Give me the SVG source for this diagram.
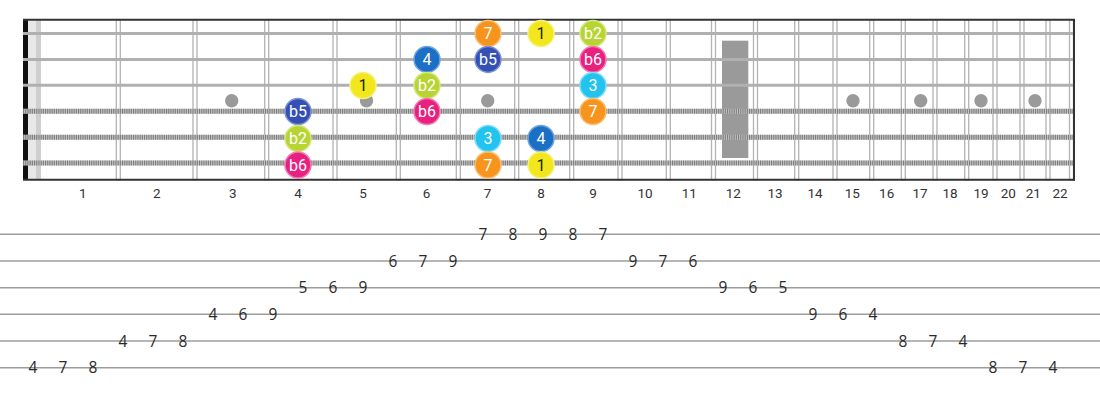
<svg xmlns="http://www.w3.org/2000/svg" width="1100" height="400" viewBox="0 0 1100 400">
<style>
.fret{fill:none;stroke:#b3b3b3;stroke-width:1.3}
.plain{stroke:#b0b0b0;stroke-width:3}
.wbase{stroke:#c4c4c4;stroke-width:5}
.wtex{stroke:#7d7d7d;stroke-width:5;stroke-dasharray:1.1 1.1}
.dot{fill:#9a9a9a}
.fl{font-family:Roboto,"Liberation Sans",sans-serif;font-size:13.5px;fill:#333;text-anchor:middle}
.nt{font-family:Roboto,"Liberation Sans",sans-serif;font-size:16px;fill:#fff;text-anchor:middle}
.nt.dk{fill:#222}
.tl{stroke:#9c9c9c;stroke-width:1.6}
.tn{font-family:"Open Sans","DejaVu Sans",sans-serif;font-size:15.5px;fill:#2a2a2a;text-anchor:middle}
.c7{fill:#f7941d;stroke:#fbbd74;stroke-width:1.5}
.c1{fill:#f2e61c;stroke:#f8f07a;stroke-width:1.5}
.cb2{fill:#b8d433;stroke:#d4e77f;stroke-width:1.5}
.cb6{fill:#e8207f;stroke:#f27bb3;stroke-width:1.5}
.c3{fill:#22c3ee;stroke:#7fdcf5;stroke-width:1.5}
.c4{fill:#1b6fc4;stroke:#6fa5dc;stroke-width:1.5}
.cb5{fill:#3450b5;stroke:#7f93d3;stroke-width:1.5}
</style>
<rect width="1100" height="400" fill="#fff"/>
<g id="fretboard">
  <rect x="28" y="20" width="13" height="160" fill="#e8e8e8"/>
  <rect x="36" y="20" width="5" height="160" fill="#cfcfcf"/>
  <g id="frets">
    <rect class="fret" x="116.3" y="20" width="4" height="160"/>
    <rect class="fret" x="193" y="20" width="4" height="160"/>
    <rect class="fret" x="264.7" y="20" width="4" height="160"/>
    <rect class="fret" x="333" y="20" width="4" height="160"/>
    <rect class="fret" x="396.3" y="20" width="4" height="160"/>
    <rect class="fret" x="456.3" y="20" width="4" height="160"/>
    <rect class="fret" x="514.7" y="20" width="4" height="160"/>
    <rect class="fret" x="569.7" y="20" width="4" height="160"/>
    <rect class="fret" x="618" y="20" width="4" height="160"/>
    <rect class="fret" x="666.3" y="20" width="4" height="160"/>
    <rect class="fret" x="711.5" y="20" width="4" height="160"/>
    <rect class="fret" x="753.5" y="20" width="4" height="160"/>
    <rect class="fret" x="794.7" y="20" width="4" height="160"/>
    <rect class="fret" x="833" y="20" width="4" height="160"/>
    <rect class="fret" x="869.7" y="20" width="4" height="160"/>
    <rect class="fret" x="901.3" y="20" width="4" height="160"/>
    <rect class="fret" x="933" y="20" width="4" height="160"/>
    <rect class="fret" x="964.7" y="20" width="4" height="160"/>
    <rect class="fret" x="993" y="20" width="4" height="160"/>
    <rect class="fret" x="1020" y="20" width="4" height="160"/>
    <rect class="fret" x="1046" y="20" width="4" height="160"/>
    <rect class="fret" x="1069.5" y="20" width="4" height="160"/>
  </g>
  <g id="inlays">
    <circle class="dot" cx="231.7" cy="100.7" r="6.7"/>
    <circle class="dot" cx="366.5" cy="100.7" r="6.7"/>
    <circle class="dot" cx="487.7" cy="100.7" r="6.7"/>
    <rect class="dot" x="722" y="40.7" width="26.3" height="117.3"/>
    <circle class="dot" cx="853" cy="100.7" r="6.7"/>
    <circle class="dot" cx="920.7" cy="100.7" r="6.7"/>
    <circle class="dot" cx="981" cy="100.7" r="6.7"/>
    <circle class="dot" cx="1035" cy="100.7" r="6.7"/>
  </g>
  <rect x="23" y="20" width="5" height="160" fill="#111"/>
  <g id="strings">
    <line class="plain" x1="23" y1="33.5" x2="1074" y2="33.5"/>
    <line class="plain" x1="23" y1="59.4" x2="1074" y2="59.4"/>
    <line class="plain" x1="23" y1="85.2" x2="1074" y2="85.2"/>
    <line class="wbase" x1="23" y1="111.2" x2="1074" y2="111.2"/>
    <line class="wtex" x1="23" y1="111.2" x2="1074" y2="111.2"/>
    <line class="wbase" x1="23" y1="137.2" x2="1074" y2="137.2"/>
    <line class="wtex" x1="23" y1="137.2" x2="1074" y2="137.2"/>
    <line class="wbase" x1="23" y1="163" x2="1074" y2="163"/>
    <line class="wtex" x1="23" y1="163" x2="1074" y2="163"/>
  </g>
  <line x1="23" y1="19.7" x2="1075" y2="19.7" stroke="#333" stroke-width="2"/>
  <line x1="23" y1="179.7" x2="1075" y2="179.7" stroke="#333" stroke-width="2"/>
  <line x1="1074" y1="19" x2="1074" y2="180.5" stroke="#333" stroke-width="2"/>
</g>
<g id="fret-numbers">
  <text class="fl" x="82.7" y="198">1</text>
  <text class="fl" x="156.7" y="198">2</text>
  <text class="fl" x="232.7" y="198">3</text>
  <text class="fl" x="298" y="198">4</text>
  <text class="fl" x="363" y="198">5</text>
  <text class="fl" x="426.5" y="198">6</text>
  <text class="fl" x="487.5" y="198">7</text>
  <text class="fl" x="541" y="198">8</text>
  <text class="fl" x="593" y="198">9</text>
  <text class="fl" x="645" y="198">10</text>
  <text class="fl" x="689.3" y="198">11</text>
  <text class="fl" x="733.3" y="198">12</text>
  <text class="fl" x="775" y="198">13</text>
  <text class="fl" x="815" y="198">14</text>
  <text class="fl" x="852.3" y="198">15</text>
  <text class="fl" x="886.7" y="198">16</text>
  <text class="fl" x="920" y="198">17</text>
  <text class="fl" x="950" y="198">18</text>
  <text class="fl" x="981" y="198">19</text>
  <text class="fl" x="1008.3" y="198">20</text>
  <text class="fl" x="1033.3" y="198">21</text>
  <text class="fl" x="1060" y="198">22</text>
</g>
<g id="notes">
  <g id="n-s1-f7"><circle class="c7" cx="488" cy="33.5" r="13"/><text class="nt" x="488" y="39.2">7</text></g>
  <g id="n-s1-f8"><circle class="c1" cx="541" cy="33.5" r="13"/><text class="nt dk" x="541" y="39.2">1</text></g>
  <g id="n-s1-f9"><circle class="cb2" cx="593" cy="33.5" r="13"/><text class="nt" x="593" y="39.2">b2</text></g>
  <g id="n-s2-f6"><circle class="c4" cx="427" cy="59.4" r="13"/><text class="nt" x="427" y="65.1">4</text></g>
  <g id="n-s2-f7"><circle class="cb5" cx="488" cy="59.4" r="13"/><text class="nt" x="488" y="65.1">b5</text></g>
  <g id="n-s2-f9"><circle class="cb6" cx="593" cy="59.4" r="13"/><text class="nt" x="593" y="65.1">b6</text></g>
  <g id="n-s3-f5"><circle class="c1" cx="363" cy="85.5" r="13"/><text class="nt dk" x="363" y="91.2">1</text></g>
  <g id="n-s3-f6"><circle class="cb2" cx="427" cy="85.5" r="13"/><text class="nt" x="427" y="91.2">b2</text></g>
  <g id="n-s3-f9"><circle class="c3" cx="593" cy="85.5" r="13"/><text class="nt" x="593" y="91.2">3</text></g>
  <g id="n-s4-f4"><circle class="cb5" cx="298" cy="111.5" r="13"/><text class="nt" x="298" y="117.2">b5</text></g>
  <g id="n-s4-f6"><circle class="cb6" cx="427" cy="111.5" r="13"/><text class="nt" x="427" y="117.2">b6</text></g>
  <g id="n-s4-f9"><circle class="c7" cx="593" cy="111.5" r="13"/><text class="nt" x="593" y="117.2">7</text></g>
  <g id="n-s5-f4"><circle class="cb2" cx="298" cy="138.5" r="13"/><text class="nt" x="298" y="144.2">b2</text></g>
  <g id="n-s5-f7"><circle class="c3" cx="488" cy="138.5" r="13"/><text class="nt" x="488" y="144.2">3</text></g>
  <g id="n-s5-f8"><circle class="c4" cx="541" cy="138.5" r="13"/><text class="nt" x="541" y="144.2">4</text></g>
  <g id="n-s6-f4"><circle class="cb6" cx="298" cy="165" r="13"/><text class="nt" x="298" y="170.7">b6</text></g>
  <g id="n-s6-f7"><circle class="c7" cx="488" cy="165" r="13"/><text class="nt" x="488" y="170.7">7</text></g>
  <g id="n-s6-f8"><circle class="c1" cx="541" cy="165" r="13"/><text class="nt dk" x="541" y="170.7">1</text></g>
</g>
<g id="tab">
  <line class="tl" x1="0" y1="234.3" x2="1100" y2="234.3"/>
  <line class="tl" x1="0" y1="261" x2="1100" y2="261"/>
  <line class="tl" x1="0" y1="287.7" x2="1100" y2="287.7"/>
  <line class="tl" x1="0" y1="314.3" x2="1100" y2="314.3"/>
  <line class="tl" x1="0" y1="341" x2="1100" y2="341"/>
  <line class="tl" x1="0" y1="367.7" x2="1100" y2="367.7"/>
  <g id="tab-notes">
    <text class="tn" x="33" y="373.3">4</text><text class="tn" x="63" y="373.3">7</text><text class="tn" x="93" y="373.3">8</text>
    <text class="tn" x="123" y="346.6">4</text><text class="tn" x="153" y="346.6">7</text><text class="tn" x="183" y="346.6">8</text>
    <text class="tn" x="213" y="319.9">4</text><text class="tn" x="243" y="319.9">6</text><text class="tn" x="273" y="319.9">9</text>
    <text class="tn" x="303" y="293.3">5</text><text class="tn" x="333" y="293.3">6</text><text class="tn" x="363" y="293.3">9</text>
    <text class="tn" x="393" y="266.6">6</text><text class="tn" x="423" y="266.6">7</text><text class="tn" x="453" y="266.6">9</text>
    <text class="tn" x="483" y="239.9">7</text><text class="tn" x="513" y="239.9">8</text><text class="tn" x="543" y="239.9">9</text>
    <text class="tn" x="573" y="239.9">8</text><text class="tn" x="603" y="239.9">7</text>
    <text class="tn" x="633" y="266.6">9</text><text class="tn" x="663" y="266.6">7</text><text class="tn" x="693" y="266.6">6</text>
    <text class="tn" x="723" y="293.3">9</text><text class="tn" x="753" y="293.3">6</text><text class="tn" x="783" y="293.3">5</text>
    <text class="tn" x="813" y="319.9">9</text><text class="tn" x="843" y="319.9">6</text><text class="tn" x="873" y="319.9">4</text>
    <text class="tn" x="903" y="346.6">8</text><text class="tn" x="933" y="346.6">7</text><text class="tn" x="963" y="346.6">4</text>
    <text class="tn" x="993" y="373.3">8</text><text class="tn" x="1023" y="373.3">7</text><text class="tn" x="1053" y="373.3">4</text>
  </g>
</g>
</svg>
